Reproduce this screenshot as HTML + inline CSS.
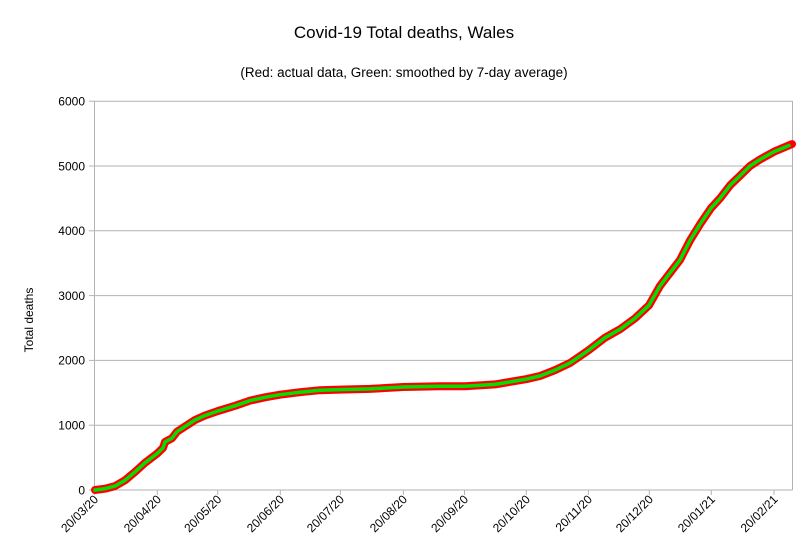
<!DOCTYPE html>
<html><head><meta charset="utf-8"><style>body{margin:0;background:#fff}svg{display:block}</style></head><body>
<svg width="808" height="556" xmlns="http://www.w3.org/2000/svg" font-family="Liberation Sans, sans-serif">
<rect width="808" height="556" fill="#fff"/>
<text x="404" y="38" font-size="17" text-anchor="middle" fill="#000">Covid-19 Total deaths, Wales</text>
<text x="404" y="77" font-size="13.5" text-anchor="middle" fill="#000">(Red: actual data, Green: smoothed by 7-day average)</text>
<g stroke="#b3b3b3" stroke-width="1" fill="none">
<line x1="94.5" y1="101.2" x2="792.5" y2="101.2"/>
<line x1="94.5" y1="166" x2="792.5" y2="166"/>
<line x1="94.5" y1="230.8" x2="792.5" y2="230.8"/>
<line x1="94.5" y1="295.6" x2="792.5" y2="295.6"/>
<line x1="94.5" y1="360.4" x2="792.5" y2="360.4"/>
<line x1="94.5" y1="425.2" x2="792.5" y2="425.2"/>
<line x1="94.5" y1="490" x2="792.5" y2="490"/>
<line x1="94.5" y1="101" x2="94.5" y2="490"/>
<line x1="792.5" y1="101" x2="792.5" y2="490"/>
<line x1="89" y1="101.2" x2="94.5" y2="101.2"/><line x1="89" y1="166" x2="94.5" y2="166"/><line x1="89" y1="230.8" x2="94.5" y2="230.8"/><line x1="89" y1="295.6" x2="94.5" y2="295.6"/><line x1="89" y1="360.4" x2="94.5" y2="360.4"/><line x1="89" y1="425.2" x2="94.5" y2="425.2"/><line x1="89" y1="490" x2="94.5" y2="490"/>
<line x1="94.5" y1="490" x2="94.5" y2="495"/><line x1="157.3" y1="490" x2="157.3" y2="495"/><line x1="217.7" y1="490" x2="217.7" y2="495"/><line x1="280.3" y1="490" x2="280.3" y2="495"/><line x1="340.3" y1="490" x2="340.3" y2="495"/><line x1="403.3" y1="490" x2="403.3" y2="495"/><line x1="464.5" y1="490" x2="464.5" y2="495"/><line x1="526.3" y1="490" x2="526.3" y2="495"/><line x1="588.3" y1="490" x2="588.3" y2="495"/><line x1="649.3" y1="490" x2="649.3" y2="495"/><line x1="711.3" y1="490" x2="711.3" y2="495"/><line x1="774" y1="490" x2="774" y2="495"/>
</g>
<g font-size="12" text-anchor="end" fill="#000">
<text x="85" y="105.5">6000</text><text x="85" y="170.3">5000</text><text x="85" y="235.1">4000</text><text x="85" y="299.9">3000</text><text x="85" y="364.7">2000</text><text x="85" y="429.5">1000</text><text x="85" y="494.3">0</text>
</g>
<text transform="translate(33,320) rotate(-90)" font-size="12" text-anchor="middle">Total deaths</text>
<g font-size="12" text-anchor="end" fill="#000">
<text transform="translate(99,500) rotate(-45)">20/03/20</text>
<text transform="translate(161.8,500) rotate(-45)">20/04/20</text>
<text transform="translate(222.2,500) rotate(-45)">20/05/20</text>
<text transform="translate(284.8,500) rotate(-45)">20/06/20</text>
<text transform="translate(344.8,500) rotate(-45)">20/07/20</text>
<text transform="translate(407.8,500) rotate(-45)">20/08/20</text>
<text transform="translate(469,500) rotate(-45)">20/09/20</text>
<text transform="translate(530.8,500) rotate(-45)">20/10/20</text>
<text transform="translate(592.8,500) rotate(-45)">20/11/20</text>
<text transform="translate(653.8,500) rotate(-45)">20/12/20</text>
<text transform="translate(715.8,500) rotate(-45)">20/01/21</text>
<text transform="translate(778.5,500) rotate(-45)">20/02/21</text>
</g>
<g fill="none" stroke-linejoin="round" stroke-linecap="round">
<polyline stroke="#ff0000" stroke-width="8" points="95,490 105,488.7 115,486.1 125,480.3 135,471.9 145,462.8 157,453.7 163,447.9 165,442 172,438.2 177,431.7 185,426.5 195,420 205,415.5 218,411 235,405.8 250,400.6 265,397.3 280,394.7 300,392.2 320,390.2 340,389.6 370,388.9 403,387 440,386.3 465,386.3 495,384.4 526,379.2 540,376 555,370.1 570,363 588,350.7 605,337.7 620,329.3 635,318.3 649,305.3 660,285.9 670,272.9 680,259.9 690,240.5 700,224.3 711,208.1 720,198.4 730,185.4 740,175.7 750,166 760,159.5 774,151.7 792,144.1"/>
<polyline stroke="#00e000" stroke-width="3.5" points="95,490 105,488.7 115,486.1 125,480.3 135,471.9 145,462.8 157,453.7 163,447.9 165,442 172,438.2 177,431.7 185,426.5 195,420 205,415.5 218,411 235,405.8 250,400.6 265,397.3 280,394.7 300,392.2 320,390.2 340,389.6 370,388.9 403,387 440,386.3 465,386.3 495,384.4 526,379.2 540,376 555,370.1 570,363 588,350.7 605,337.7 620,329.3 635,318.3 649,305.3 660,285.9 670,272.9 680,259.9 690,240.5 700,224.3 711,208.1 720,198.4 730,185.4 740,175.7 750,166 760,159.5 774,151.7 789,145.5"/>
</g>
</svg>
</body></html>
